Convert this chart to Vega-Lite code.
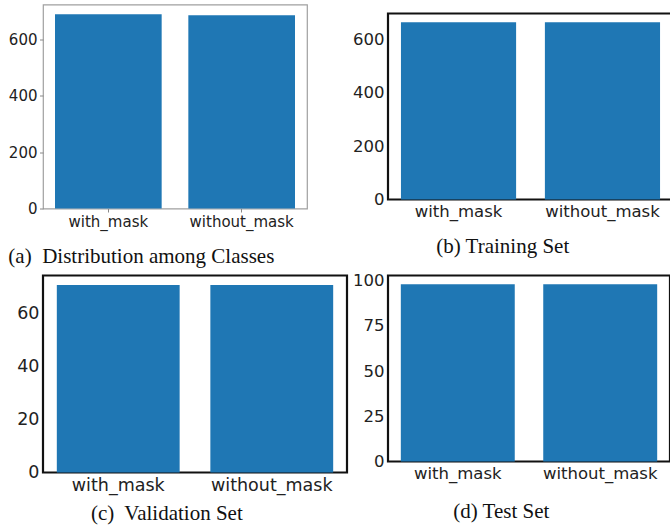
{
  "$schema": "https://vega.github.io/schema/vega-lite/v6.json",
  "padding": {"left": 7, "top": 3.5, "right": 0, "bottom": 0},
  "background": "white",
  "datasets": {
    "all": [{"cls": "with_mask", "n": 690}, {"cls": "without_mask", "n": 686}],
    "train": [{"cls": "with_mask", "n": 664}, {"cls": "without_mask", "n": 664}],
    "val": [{"cls": "with_mask", "n": 71}, {"cls": "without_mask", "n": 71}],
    "test": [{"cls": "with_mask", "n": 98}, {"cls": "without_mask", "n": 98}]
  },
  "columns": 2,
  "align": "each",
  "bounds": "flush",
  "center": {"row": true, "column": false},
  "spacing": {"row": 67, "column": 41},
  "config": {
    "font": "DejaVu Sans",
    "axis": {"labelColor": "#222", "grid": false, "title": null, "domain": false, "labelFont": "DejaVu Sans"},
    "title": {"font": "Liberation Serif", "fontSize": 21, "fontWeight": "normal", "color": "#111", "orient": "bottom", "baseline": "alphabetic"}
  },
  "concat": [
    {
      "data": {"name": "all"},
      "width": 264, "height": 204,
      "view": {"stroke": "#a0a0a0", "strokeWidth": 1.2},
      "title": {"text": "(a)\u00a0 Distribution among Classes", "anchor": "start", "frame": "bounds", "offset": 16.5},
      "mark": {"type": "bar", "color": "#1f77b4"},
      "encoding": {
        "x": {"field": "cls", "type": "nominal", "sort": null,
              "scale": {"paddingInner": 0.2, "paddingOuter": 0.09},
              "axis": {"labelAngle": 0, "labelFontSize": 15, "ticks": true, "tickSize": 3.5, "tickColor": "#888", "labelPadding": 2.5}},
        "y": {"field": "n", "type": "quantitative",
              "scale": {"domain": [0, 724.5], "nice": false},
              "axis": {"values": [0, 200, 400, 600], "labelFontSize": 15, "ticks": true, "tickSize": 3.5, "tickColor": "#888", "labelPadding": 2.5}}
      }
    },
    {
      "data": {"name": "train"},
      "width": 285, "height": 186,
      "view": {"stroke": "#111", "strokeWidth": 2.2},
      "title": {"text": "(b) Training Set", "anchor": "middle", "frame": "bounds", "offset": 16, "dx": -10},
      "mark": {"type": "bar", "color": "#1f77b4"},
      "encoding": {
        "x": {"field": "cls", "type": "nominal", "sort": null,
              "scale": {"paddingInner": 0.2, "paddingOuter": 0.09},
              "axis": {"labelAngle": 0, "labelFontSize": 16.5, "ticks": false, "labelPadding": 4}},
        "y": {"field": "n", "type": "quantitative",
              "scale": {"domain": [0, 697.2], "nice": false},
              "axis": {"values": [0, 200, 400, 600], "labelFontSize": 16.5, "ticks": false, "labelPadding": 4}}
      }
    },
    {
      "data": {"name": "val"},
      "width": 304, "height": 197,
      "view": {"stroke": "#111", "strokeWidth": 2.2},
      "title": {"text": "(c)\u00a0 Validation Set", "anchor": "middle", "frame": "bounds", "offset": 9, "dx": -15},
      "mark": {"type": "bar", "color": "#1f77b4"},
      "encoding": {
        "x": {"field": "cls", "type": "nominal", "sort": null,
              "scale": {"paddingInner": 0.2, "paddingOuter": 0.09},
              "axis": {"labelAngle": 0, "labelFontSize": 17.5, "ticks": false, "labelPadding": 4}},
        "y": {"field": "n", "type": "quantitative",
              "scale": {"domain": [0, 74.55], "nice": false},
              "axis": {"values": [0, 20, 40, 60], "labelFontSize": 17.5, "ticks": false, "labelPadding": 4}}
      }
    },
    {
      "data": {"name": "test"},
      "width": 282, "height": 186,
      "view": {"stroke": "#111", "strokeWidth": 2.2},
      "title": {"text": "(d) Test Set", "anchor": "middle", "frame": "bounds", "offset": 19, "dx": -10},
      "mark": {"type": "bar", "color": "#1f77b4"},
      "encoding": {
        "x": {"field": "cls", "type": "nominal", "sort": null,
              "scale": {"paddingInner": 0.2, "paddingOuter": 0.09},
              "axis": {"labelAngle": 0, "labelFontSize": 16.5, "ticks": false, "labelPadding": 4}},
        "y": {"field": "n", "type": "quantitative",
              "scale": {"domain": [0, 102.9], "nice": false},
              "axis": {"values": [0, 25, 50, 75, 100], "labelFontSize": 16.5, "ticks": false, "labelPadding": 4}}
      }
    }
  ]
}
